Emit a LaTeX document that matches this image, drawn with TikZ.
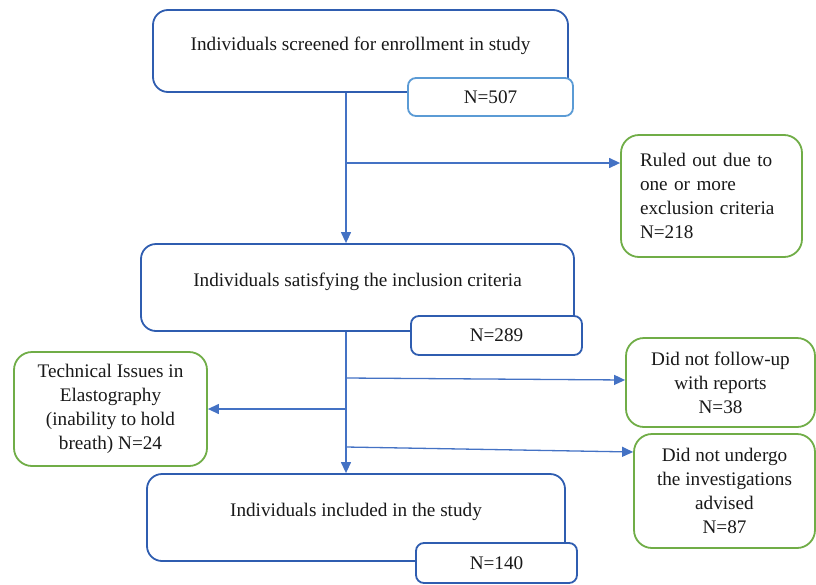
\documentclass[tikz,border=0pt]{standalone}
\usepackage{fontspec}
\setmainfont{Liberation Serif}
\usepackage{xcolor}
\usetikzlibrary{arrows.meta}
\definecolor{boxblue}{HTML}{2F5DB0}
\definecolor{lightblue}{HTML}{5B9BD5}
\definecolor{arrowblue}{HTML}{4472C4}
\definecolor{boxgreen}{HTML}{70AD47}
\begin{document}
\begin{tikzpicture}[x=1pt,y=-1pt]
\tikzstyle{every node}+=[font=\fontsize{19.2}{24}\selectfont,text=black!90]
\tikzstyle{mainbox}=[draw=boxblue,line width=1.8pt,rounded corners=15pt,fill=white,text depth=15pt]
\tikzstyle{countbox}=[draw=boxblue,line width=1.8pt,rounded corners=8pt,fill=white]
\tikzstyle{sidebox}=[draw=boxgreen,line width=1.8pt,rounded corners=18pt,fill=white,align=center]
\tikzstyle{flow}=[draw=arrowblue,line width=1.3pt,-{Triangle[length=11pt,width=10pt]}]
\useasboundingbox (0,0) rectangle (816,584);
\node [mainbox,minimum width=415,minimum height=82] (screened) at (360.5,51) {Individuals screened for enrollment in study};
\node [countbox,draw=lightblue,minimum width=165,minimum height=38] (n507) at (490.5,97) {N=507};
\node [mainbox,minimum width=433,minimum height=87] (satisfying) at (357.5,287.5) {Individuals satisfying the inclusion criteria};
\node [countbox,minimum width=171,minimum height=39] (n289) at (496.5,335.5) {N=289};
\node [mainbox,minimum width=418,minimum height=87] (included) at (356,517.5) {Individuals included in the study};
\node [countbox,minimum width=161,minimum height=40] (n140) at (496.5,563) {N=140};
\node [sidebox,align=left,text width=143,minimum width=181,minimum height=122] (ruledout) at (711.5,196) {Ruled out due to\\one or more\\exclusion criteria\\N=218};
\node [sidebox,minimum width=189,minimum height=89] (followup) at (720.5,382.5) {Did not follow-up\\with reports\\N=38};
\node [sidebox,minimum width=181,minimum height=114] (undergo) at (724.5,491) {Did not undergo\\the investigations\\advised\\N=87};
\node [sidebox,minimum width=193,minimum height=114] (technical) at (110.5,409) {Technical Issues in\\Elastography\\(inability to hold\\breath) N=24};
\coordinate (trunk) at (346,0);
\coordinate (split1) at (346,163);
\coordinate (split2) at (346,378);
\coordinate (split3) at (346,409);
\coordinate (split4) at (346,447);
\draw [flow] (screened.south -| trunk) -- (satisfying.north -| trunk);
\draw [flow] (split1) -- (split1 -| ruledout.west);
\draw [flow] (satisfying.south -| trunk) -- (included.north -| trunk);
\draw [flow] (split2) -- (followup.west |- 0,380);
\draw [flow] (split3) -- (split3 -| technical.east);
\draw [flow] (split4) -- (undergo.west |- 0,452);
\end{tikzpicture}
\end{document}
